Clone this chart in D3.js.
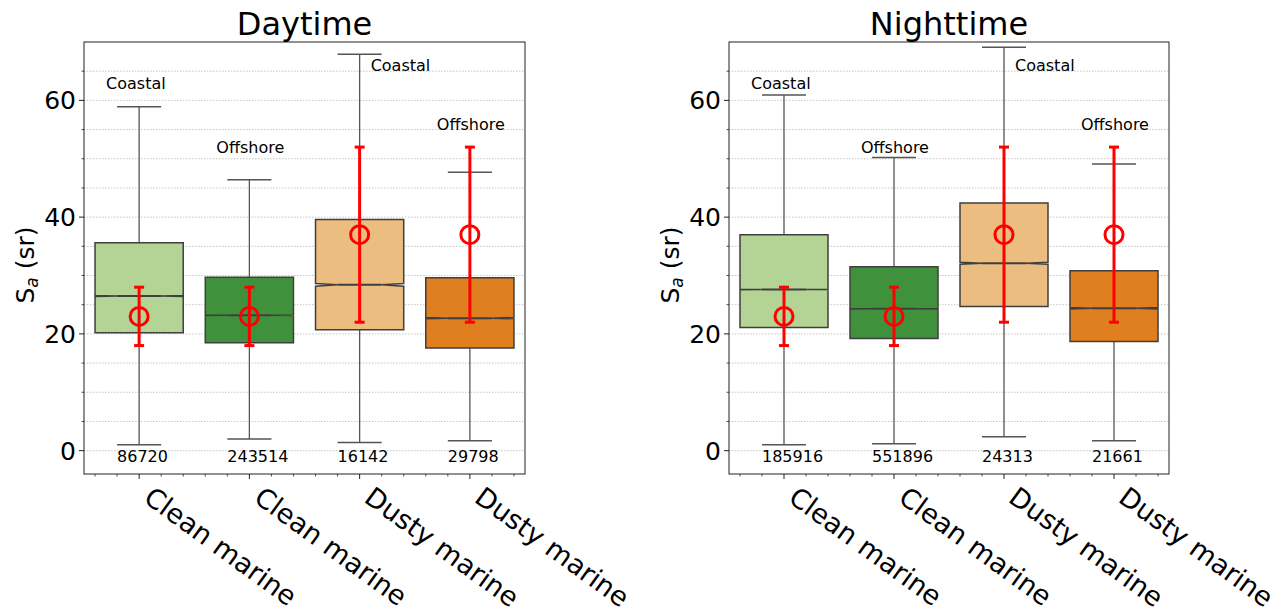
<!DOCTYPE html>
<html>
<head>
<meta charset="utf-8">
<script src="https://cdn.jsdelivr.net/npm/d3@7"></script>
<style>
  body { margin: 0; background: #fff; }
  svg { display: block; font-family: "DejaVu Sans", sans-serif; }
</style>
</head>
<body>
<svg id="chart" width="1288" height="611"></svg>
<script>
// ---------- data ----------
const categories = ["Clean marine", "Clean marine", "Dusty marine", "Dusty marine"];
const regions = ["Coastal", "Offshore", "Coastal", "Offshore"];
const boxColors = ["#b3d495", "#40913b", "#ebbd81", "#df7f20"];

const dayWhiskerLow  = [1.0, 2.0, 1.4, 1.7];
const dayQ1          = [20.2, 18.5, 20.7, 17.6];
const dayMedian      = [26.5, 23.2, 28.4, 22.7];
const dayQ3          = [35.6, 29.7, 39.6, 29.6];
const dayWhiskerHigh = [58.9, 46.4, 67.9, 47.7];
const dayCounts      = [86720, 243514, 16142, 29798];

const nightWhiskerLow  = [1.0, 1.2, 2.4, 1.7];
const nightQ1          = [21.1, 19.2, 24.7, 18.7];
const nightMedian      = [27.6, 24.3, 32.1, 24.4];
const nightQ3          = [37.0, 31.5, 42.4, 30.8];
const nightWhiskerHigh = [60.9, 50.2, 69.1, 49.1];
const nightCounts      = [185916, 551896, 24313, 21661];

const refMean = [23, 23, 37, 37];
const refLow  = [18, 18, 22, 22];
const refHigh = [28, 28, 52, 52];

const regionLabelY = [62, 51, 65, 55];
const regionLabelDx = [-0.3, -0.3, 0.1, -0.3];

const yTicks = [0, 20, 40, 60];
const yGrid = d3.range(0, 70, 5);
const yMinor = d3.range(0, 70, 5).filter(v => v % 20 !== 0);
const yDomain = [-4, 70];

const panels = [
  { title: "Daytime", left: 84, right: 525, lo: dayWhiskerLow, q1: dayQ1, med: dayMedian, q3: dayQ3, hi: dayWhiskerHigh, n: dayCounts },
  { title: "Nighttime", left: 729, right: 1169, lo: nightWhiskerLow, q1: nightQ1, med: nightMedian, q3: nightQ3, hi: nightWhiskerHigh, n: nightCounts }
];

const axTop = 42, axBottom = 474;
const svg = d3.select("#chart");

panels.forEach(p => {
  const g = svg.append("g");
  const x = d3.scaleLinear().domain([-0.5, 3.5]).range([p.left, p.right]);
  const y = d3.scaleLinear().domain(yDomain).range([axBottom, axTop]);

  // grid
  g.append("g").selectAll("line").data(yGrid).join("line")
    .attr("x1", p.left).attr("x2", p.right)
    .attr("y1", d => y(d)).attr("y2", d => y(d))
    .attr("stroke", "#b8b8b8").attr("stroke-width", 0.8)
    .attr("stroke-dasharray", "1.5,1.5");

  const bw = x(0.4) - x(-0.4);

  categories.forEach((c, i) => {
    const cx = x(i);
    const xL = cx - bw / 2, xR = cx + bw / 2, cL = cx - bw / 4, cR = cx + bw / 4;
    const h = 1.57 * (p.q3[i] - p.q1[i]) / Math.sqrt(p.n[i]);
    const pts = [
      [xL, y(p.q1[i])], [xR, y(p.q1[i])], [xR, y(p.med[i] - h)], [cR, y(p.med[i])],
      [xR, y(p.med[i] + h)], [xR, y(p.q3[i])], [xL, y(p.q3[i])], [xL, y(p.med[i] + h)],
      [cL, y(p.med[i])], [xL, y(p.med[i] - h)]
    ];
    // whiskers
    g.append("line").attr("x1", cx).attr("x2", cx).attr("y1", y(p.q3[i])).attr("y2", y(p.hi[i]))
      .attr("stroke", "#555").attr("stroke-width", 1.3);
    g.append("line").attr("x1", cx).attr("x2", cx).attr("y1", y(p.q1[i])).attr("y2", y(p.lo[i]))
      .attr("stroke", "#555").attr("stroke-width", 1.3);
    [p.hi[i], p.lo[i]].forEach(v => {
      g.append("line").attr("x1", cL).attr("x2", cR).attr("y1", y(v)).attr("y2", y(v))
        .attr("stroke", "#555").attr("stroke-width", 1.5);
    });
    g.append("polygon").attr("points", pts.map(d => d.join(",")).join(" "))
      .attr("fill", boxColors[i]).attr("stroke", "#3f3f3f").attr("stroke-width", 1.5)
      .attr("stroke-linejoin", "miter");
    g.append("line").attr("x1", cL).attr("x2", cR).attr("y1", y(p.med[i])).attr("y2", y(p.med[i]))
      .attr("stroke", "#3f3f3f").attr("stroke-width", 2);

    // count label
    g.append("text").attr("x", x(i - 0.2)).attr("y", y(-2))
      .attr("font-size", 16).attr("fill", "#000").text(p.n[i]);
    // region label
    g.append("text").attr("x", x(i + regionLabelDx[i])).attr("y", y(regionLabelY[i]))
      .attr("font-size", 16).attr("fill", "#000").text(regions[i]);
  });

  // red reference error bars
  categories.forEach((c, i) => {
    const cx = x(i);
    g.append("line").attr("x1", cx).attr("x2", cx).attr("y1", y(refLow[i])).attr("y2", y(refHigh[i]))
      .attr("stroke", "#ff0000").attr("stroke-width", 3);
    [refLow[i], refHigh[i]].forEach(v => {
      g.append("line").attr("x1", cx - 5).attr("x2", cx + 5).attr("y1", y(v)).attr("y2", y(v))
        .attr("stroke", "#ff0000").attr("stroke-width", 3);
    });
    g.append("circle").attr("cx", cx).attr("cy", y(refMean[i])).attr("r", 9)
      .attr("fill", "none").attr("stroke", "#ff0000").attr("stroke-width", 3);
  });

  // spines
  g.append("rect").attr("x", p.left).attr("y", axTop).attr("width", p.right - p.left).attr("height", axBottom - axTop)
    .attr("fill", "none").attr("stroke", "#222").attr("stroke-width", 1);

  // y ticks
  g.append("g").selectAll("line").data(yTicks).join("line")
    .attr("x1", p.left - 5).attr("x2", p.left).attr("y1", d => y(d)).attr("y2", d => y(d))
    .attr("stroke", "#222").attr("stroke-width", 1);
  g.append("g").selectAll("line").data(yMinor).join("line")
    .attr("x1", p.left - 2.5).attr("x2", p.left).attr("y1", d => y(d)).attr("y2", d => y(d))
    .attr("stroke", "#222").attr("stroke-width", 0.8);
  g.append("g").selectAll("text").data(yTicks).join("text")
    .attr("x", p.left - 8).attr("y", d => y(d)).attr("dy", "0.36em")
    .attr("text-anchor", "end").attr("font-size", 25).attr("fill", "#000").text(d => d);

  // x ticks
  g.append("g").selectAll("line").data(d3.range(0, 4)).join("line")
    .attr("x1", d => x(d)).attr("x2", d => x(d)).attr("y1", axBottom).attr("y2", axBottom + 5)
    .attr("stroke", "#222").attr("stroke-width", 1);
  g.append("g").selectAll("line").data(d3.range(-0.4, 3.41, 0.2).filter(v => Math.abs(v - Math.round(v)) > 0.01)).join("line")
    .attr("x1", d => x(d)).attr("x2", d => x(d)).attr("y1", axBottom).attr("y2", axBottom + 2.5)
    .attr("stroke", "#222").attr("stroke-width", 0.8);
  g.append("g").selectAll("text").data(categories).join("text")
    .attr("transform", (d, i) => `translate(${x(i) + 3},${axBottom + 27}) rotate(36)`)
    .attr("font-size", 27).attr("fill", "#000").text(d => d);

  // title
  g.append("text").attr("x", (p.left + p.right) / 2).attr("y", 34.5).attr("text-anchor", "middle")
    .attr("font-size", 32).attr("fill", "#000").text(p.title);

  // y label
  const yl = g.append("text")
    .attr("transform", `translate(${p.left - 50.5},${(axTop + axBottom) / 2 + 7}) rotate(-90)`)
    .attr("text-anchor", "middle").attr("font-size", 25).attr("fill", "#000");
  yl.append("tspan").text("S");
  yl.append("tspan").attr("font-size", 17).attr("font-style", "italic").attr("dy", 4).text("a");
  yl.append("tspan").attr("dy", -4).text(" (sr)");
});
</script>
</body>
</html>
